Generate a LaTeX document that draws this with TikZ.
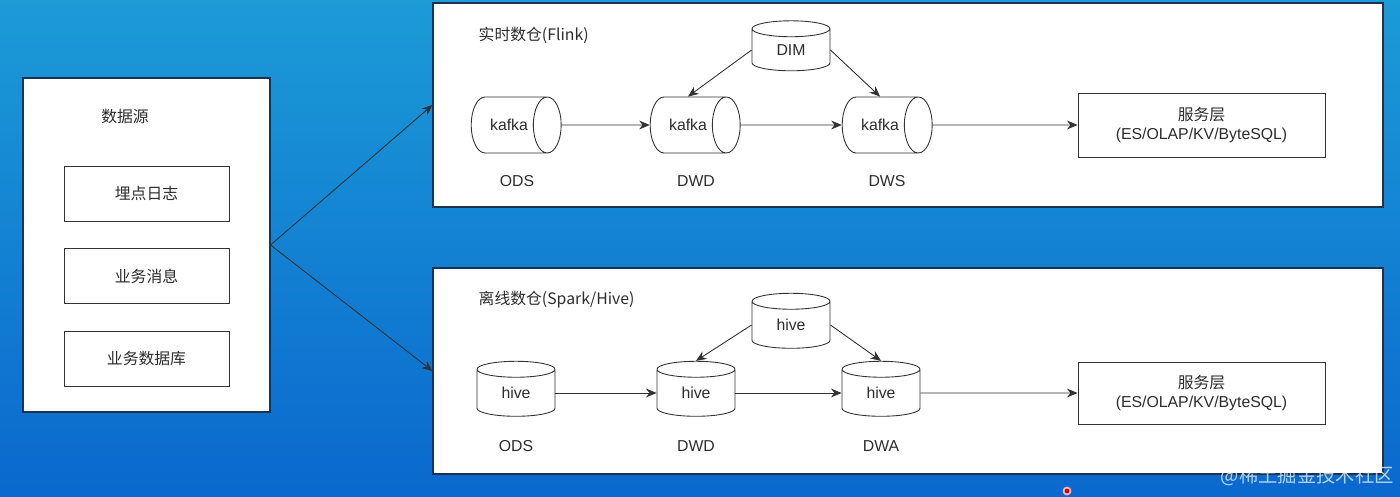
\documentclass[tikz,border=0pt]{standalone}
\usepackage{fontspec}
\setmainfont{Liberation Sans}
\newfontfamily\cjk{Noto Sans CJK SC}
\usepackage{xcolor}
\usepackage{tikz}
\usetikzlibrary{shapes.geometric, arrows.meta, positioning, calc}
\definecolor{SkyTop}{RGB}{28, 155, 215}
\definecolor{SkyBottom}{RGB}{10, 104, 206}
\definecolor{LineGray}{RGB}{50, 50, 50}
\definecolor{TextGray}{RGB}{45, 45, 45}
\definecolor{FrameDark}{RGB}{30, 50, 80}

\begin{document}
\begin{tikzpicture}[
        >={Stealth[length=6pt,width=5pt]},
        every node/.style={font=\fontsize{9}{11}\selectfont, text=TextGray},
        panel/.style={draw=FrameDark, line width=0.6pt, fill=white, inner sep=0pt},
        srcbox/.style={draw=LineGray, line width=0.5pt, fill=white, minimum width=3.3cm, minimum height=1.1cm, inner sep=0pt},
        servebox/.style={draw=LineGray, line width=0.5pt, fill=white, minimum width=4.94cm, align=center, inner sep=0pt},
        kafka/.style={cylinder, draw=LineGray, line width=0.5pt, fill=white, aspect=2.4, minimum width=1.12cm, minimum height=1.8cm, inner sep=0pt},
        hive/.style={cylinder, shape border rotate=90, draw=LineGray, line width=0.5pt, fill=white, aspect=0.55, minimum width=1.56cm, minimum height=1.1cm, inner sep=0pt},
        flow/.style={->, line width=0.5pt, LineGray}
    ]

    % Hintergrund
    \shade[top color=SkyTop, bottom color=SkyBottom] (0, 0) rectangle (28, -9.94);
    \useasboundingbox (0, 0) rectangle (28, -9.94);

    % Datenquellen
    \node[panel, minimum width=4.94cm, minimum height=6.68cm] (src) at (2.93, -4.90) {};
    \node[font=\cjk\fontsize{9}{11}\selectfont] (srctitle) at (2.50, -2.34) {数据源};
    \node[srcbox, font=\cjk\fontsize{9}{11}\selectfont] (log) at (2.93, -3.87) {埋点日志};
    \node[srcbox, font=\cjk\fontsize{9}{11}\selectfont] (msg) at (2.93, -5.52) {业务消息};
    \node[srcbox, font=\cjk\fontsize{9}{11}\selectfont] (db) at (2.93, -7.17) {业务数据库};

    % Panels
    \node[panel, minimum width=19cm, minimum height=4.08cm] (rt) at (18.16, -2.10) {};
    \node[panel, minimum width=19cm, minimum height=4.12cm] (off) at (18.16, -7.42) {};
    \node[anchor=west, font=\cjk\fontsize{9}{11}\selectfont] (rttitle) at (9.45, -0.70) {实时数仓(Flink)};
    \node[anchor=west, font=\cjk\fontsize{9}{11}\selectfont] (offtitle) at (9.45, -6.00) {离线数仓(Spark/Hive)};

    \draw[flow] (src.east) -- (rt.west);
    \draw[flow] (src.east) -- (off.west);

    % --- Echtzeit ---
    \node[hive, minimum height=1.0cm] (dim) at (15.82, -1.00) {DIM};
    \node[kafka] (rtods) at (10.18, -2.50) {kafka};
    \node[kafka] (rtdwd) at (13.76, -2.50) {kafka};
    \node[kafka] (rtdws) at (17.60, -2.50) {kafka};
    \node[servebox, minimum height=1.28cm] (rtserve) at (24.03, -2.50) {{\cjk 服务层}\\(ES/OLAP/KV/ByteSQL)};
    \node (rtodsl) at (10.34, -3.62) {ODS};
    \node (rtdwdl) at (13.92, -3.62) {DWD};
    \node (rtdwsl) at (17.74, -3.62) {DWS};

    \draw[flow] (rtods.east) -- (rtdwd.west);
    \draw[flow] (rtdwd.east) -- (rtdws.west);
    \draw[flow] (rtdws.east) -- (rtserve.west);
    \draw[flow] (dim.west) -- (rtdwd.north);
    \draw[flow] (dim.east) -- (rtdws.north);

    % --- Offline ---
    \node[hive] (hdim) at (15.82, -6.50) {hive};
    \node[hive] (offods) at (10.32, -7.86) {hive};
    \node[hive] (offdwd) at (13.92, -7.86) {hive};
    \node[hive] (offdwa) at (17.62, -7.86) {hive};
    \node[servebox, minimum height=1.24cm] (offserve) at (24.03, -7.86) {{\cjk 服务层}\\(ES/OLAP/KV/ByteSQL)};
    \node (offodsl) at (10.32, -8.92) {ODS};
    \node (offdwdl) at (13.92, -8.92) {DWD};
    \node (offdwal) at (17.62, -8.92) {DWA};

    \draw[flow] (offods.east) -- (offdwd.west);
    \draw[flow] (offdwd.east) -- (offdwa.west);
    \draw[flow] (offdwa.east) -- (offserve.west);
    \draw[flow] (hdim.west) -- (offdwd.north);
    \draw[flow] (hdim.east) -- (offdwa.north);

    % Wasserzeichen
    \node[anchor=east, text=white, opacity=0.7, font=\cjk\fontsize{11}{13}\selectfont] (mark) at (28, -9.52) {@稀土掘金技术社区};
    \fill[red!80!black, draw=red!30, line width=1pt] (21.34, -9.82) circle (0.07);

\end{tikzpicture}
\end{document}
